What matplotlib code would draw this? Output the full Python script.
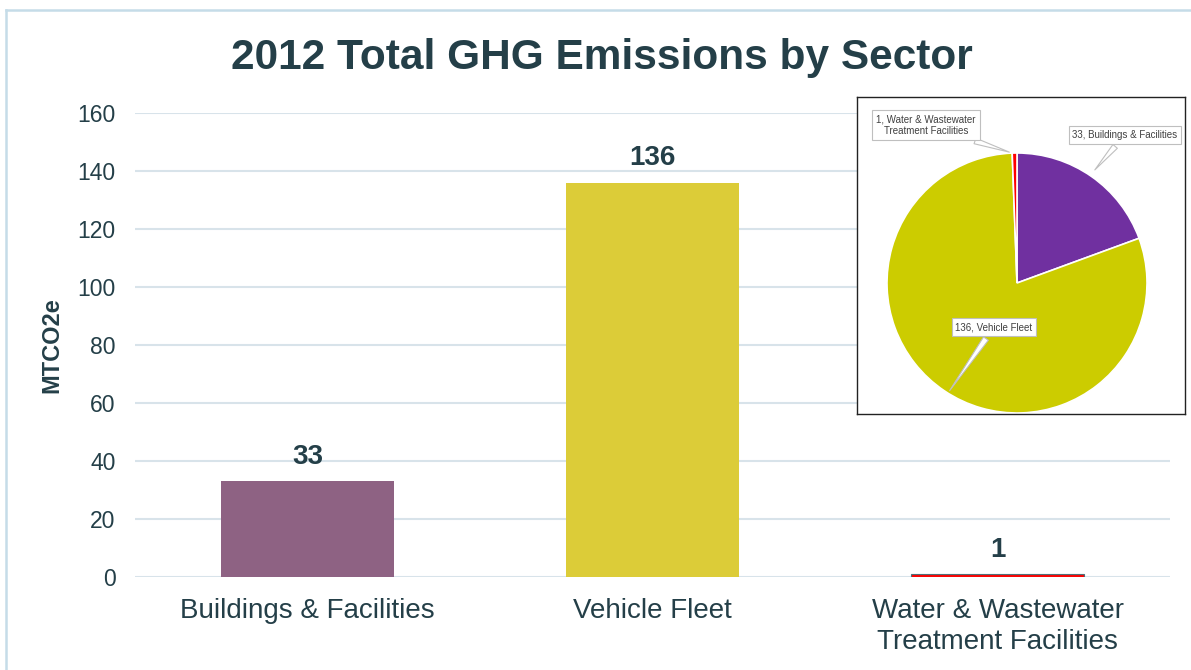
import numpy as np
import matplotlib.pyplot as plt
from matplotlib.lines import Line2D

plt.rcParams['font.family'] = ['Liberation Sans', 'DejaVu Sans']

# data
sectors = ['Buildings & Facilities', 'Vehicle Fleet', 'Water & Wastewater\nTreatment Facilities']
pie_names = ['Buildings & Facilities', 'Vehicle Fleet', 'Water & Wastewater\nTreatment Facilities']
emissions = [33, 136, 1]
yticks = [0, 20, 40, 60, 80, 100, 120, 140, 160]

bar_colors = ['#8e6283', '#dccc38', '#ff0000']
pie_colors = ['#7030a0', '#cccc00', '#ff0000']
text_col = '#243f48'
grid_col = '#d8e3ea'

fig = plt.figure(figsize=(11.91, 6.70), dpi=100)

# light outer frame
fig.add_artist(Line2D([6/1191, 6/1191], [0, 660/670], color='#c5dce8', lw=1.8))
fig.add_artist(Line2D([6/1191, 1], [660/670, 660/670], color='#c5dce8', lw=1.8))

ax = fig.add_axes([135/1191, 93/670, 1035/1191, 464/670])
x = np.arange(len(sectors))
bars = ax.bar(x, emissions, width=0.503, color=bar_colors, zorder=3)
bars[2].set_edgecolor('#4f6f78')
bars[2].set_linewidth(0.8)

ax.set_xlim(-0.5, 2.5)
ax.set_ylim(0, 160)
ax.set_yticks(yticks)
ax.yaxis.grid(True, color=grid_col, lw=1.5, zorder=0)
ax.set_axisbelow(True)
for s in ax.spines.values():
    s.set_visible(False)
ax.tick_params(axis='both', length=0, colors=text_col)
ax.tick_params(axis='y', pad=14, labelsize=16.5)
ax.tick_params(axis='x', pad=15, labelsize=20)
ax.set_xticks(x)
ax.set_xticklabels(sectors, linespacing=1.25)
ax.set_ylabel('MTCO2e', fontsize=17, fontweight='bold', color=text_col)
ax.yaxis.set_label_coords(-(135 - 63) / 1035, 0.5)

for xi, v in zip(x, emissions):
    ax.annotate(str(v), xy=(xi, v), xytext=(0, 8), textcoords='offset points',
                ha='center', va='bottom', fontsize=20, fontweight='bold', color=text_col)

fig.text(601.5/1191, (670 - 58)/670, '2012 Total GHG Emissions by Sector', ha='center', va='center',
         fontsize=30.5, fontweight='bold', color=text_col)

# pie inset
pax = fig.add_axes([857/1191, 256/670, 328/1191, 317/670])
pax.pie(emissions, colors=pie_colors, startangle=90, counterclock=False,
        radius=130, center=(0, 0), frame=True,
        wedgeprops=dict(edgecolor='white', linewidth=1.2))
pax.set_xlim(-160, 168)
pax.set_ylim(-131, 186)
pax.set_aspect('equal')
pax.set_xticks([])
pax.set_yticks([])
for s in pax.spines.values():
    s.set_visible(True)
    s.set_color('#222222')
    s.set_linewidth(1.0)
pax.set_facecolor('white')

box = dict(boxstyle='square,pad=0.4', fc='white', ec='#bfbfbf', lw=0.8)
arrow = dict(arrowstyle='wedge,tail_width=0.6,shrink_factor=0.5', fc='white', ec='#bfbfbf', lw=0.8)
label_pos = [(108, 148), (-23, -44), (-91, 158)]
tip_pos = [(76, 111), (-69, -110), (-5, 130)]
for name, v, lp, tp in zip(pie_names, emissions, label_pos, tip_pos):
    txt = f'{v}, {name}'
    pax.annotate(txt, xy=tp, xytext=lp, ha='center', va='center', fontsize=7,
                 color='#404040', bbox=box, arrowprops=arrow, linespacing=1.2,
                 annotation_clip=False)

fig.savefig('out.png', dpi=100, facecolor='white')
